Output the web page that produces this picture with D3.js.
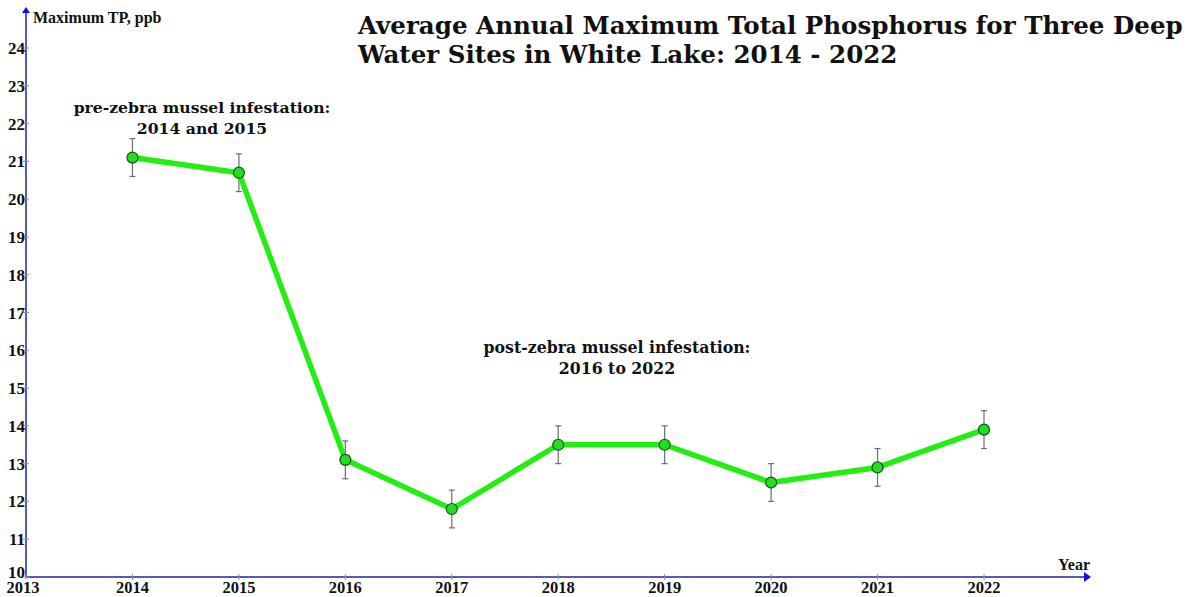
<!DOCTYPE html>
<html>
<head>
<meta charset="utf-8">
<script src="https://cdn.jsdelivr.net/npm/d3@7"></script>
<style>
  html, body { margin: 0; padding: 0; background: #fff; }
  svg { display: block; }
</style>
</head>
<body>
<svg id="chart" width="1200" height="597"></svg>
<script>
// Annual maximum total phosphorus (ppb), averaged over three deep-water sites
const years = [2014, 2015, 2016, 2017, 2018, 2019, 2020, 2021, 2022];
const meanTP = [21.1, 20.7, 13.1, 11.8, 13.5, 13.5, 12.5, 12.9, 13.9];
const errTP = [0.5, 0.5, 0.5, 0.5, 0.5, 0.5, 0.5, 0.5, 0.5];
const yTicks = [10, 11, 12, 13, 14, 15, 16, 17, 18, 19, 20, 21, 22, 23, 24];
const xTicks = [2013, 2014, 2015, 2016, 2017, 2018, 2019, 2020, 2021, 2022];

const titleLines = [
  "Average Annual Maximum Total Phosphorus for Three Deep",
  "Water Sites in White Lake: 2014 - 2022"
];
const notePre = ["pre-zebra mussel infestation:", "2014 and 2015"];
const notePost = ["post-zebra mussel infestation:", "2016 to 2022"];

const svg = d3.select("#chart");
const axisColor = "#23239a";
const serifBold = "'Liberation Serif', 'Times New Roman', serif";
const noteFont = "'DejaVu Serif', Georgia, serif";

const x = d3.scaleLinear().domain([2013, 2022]).range([26, 984]);
const y = d3.scaleLinear().domain([10, 24]).range([577, 48]);

const data = years.map((yr, i) => ({ yr, v: meanTP[i], e: errTP[i] }));

// Axes lines with arrow heads
svg.append("line").attr("x1", x(2013)).attr("x2", 1084).attr("y1", y(10)).attr("y2", y(10))
  .attr("stroke", axisColor).attr("stroke-width", 1.5);
svg.append("path").attr("d", `M1084,${y(10) - 5} L1091,${y(10)} L1084,${y(10) + 5} Z`).attr("fill", "#1010e0");
svg.append("line").attr("x1", x(2013)).attr("x2", x(2013)).attr("y1", y(10)).attr("y2", 12)
  .attr("stroke", axisColor).attr("stroke-width", 1.5);
svg.append("path").attr("d", `M${x(2013) - 4},13 L${x(2013)},7 L${x(2013) + 4},13 Z`).attr("fill", "#1010e0");

// Y ticks and labels
const yg = svg.append("g");
yTicks.forEach(t => {
  yg.append("line").attr("x1", x(2013) - 3).attr("x2", x(2013) + 3)
    .attr("y1", y(t)).attr("y2", y(t)).attr("stroke", "#8a8ac8").attr("stroke-width", 1);
  yg.append("text").attr("x", 25).attr("y", t === 10 ? y(t) + 0.5 : y(t) + 6)
    .attr("text-anchor", "end").attr("font-family", serifBold).attr("font-weight", "bold")
    .attr("font-size", 17).attr("fill", "#111").text(t);
});

// X ticks and labels
const xg = svg.append("g");
xTicks.forEach(t => {
  xg.append("line").attr("x1", x(t)).attr("x2", x(t))
    .attr("y1", y(10) - 3).attr("y2", y(10) + 3).attr("stroke", "#8a8ac8").attr("stroke-width", 1);
  xg.append("text").attr("x", t === 2013 ? x(t) - 3 : x(t)).attr("y", 593)
    .attr("text-anchor", "middle").attr("font-family", serifBold).attr("font-weight", "bold")
    .attr("font-size", 16.5).attr("fill", "#111").text(t);
});

// Axis titles
svg.append("text").attr("x", 33).attr("y", 23).attr("font-family", serifBold)
  .attr("font-weight", "bold").attr("font-size", 16).attr("fill", "#111").text("Maximum TP, ppb");
svg.append("text").attr("x", 1090).attr("y", 570).attr("text-anchor", "end").attr("font-family", serifBold)
  .attr("font-weight", "bold").attr("font-size", 16).attr("fill", "#111").text("Year");

// Error bars
const eg = svg.append("g").attr("stroke", "#6d6d6d").attr("stroke-width", 1.2);
data.forEach(d => {
  eg.append("line").attr("x1", x(d.yr)).attr("x2", x(d.yr)).attr("y1", y(d.v - d.e)).attr("y2", y(d.v + d.e));
  [d.v - d.e, d.v + d.e].forEach(v => {
    eg.append("line").attr("x1", x(d.yr) - 3).attr("x2", x(d.yr) + 3).attr("y1", y(v)).attr("y2", y(v));
  });
});

// Series line
svg.append("path").datum(data)
  .attr("d", d3.line().x(d => x(d.yr)).y(d => y(d.v)))
  .attr("fill", "none").attr("stroke", "#22ee11").attr("stroke-width", 5.5)
  .attr("stroke-linejoin", "round");

// Markers
svg.append("g").selectAll("circle").data(data).join("circle")
  .attr("cx", d => x(d.yr)).attr("cy", d => y(d.v)).attr("r", 5.5)
  .attr("fill", "#22dd22").attr("stroke", "#145214").attr("stroke-width", 1.2);

// Title, fitted to its line width
const tg = svg.append("g");
titleLines.forEach((line, i) => {
  tg.append("text").attr("x", 358).attr("y", 34 + i * 29)
    .attr("font-family", noteFont).attr("font-weight", "bold").attr("font-size", 22)
    .attr("fill", "#111").text(line);
});
const tw = tg.select("text").node().getComputedTextLength();
tg.selectAll("text").attr("font-size", 22 * 825 / tw);

// Period notes
function note(lines, cx, y0, width) {
  const g = svg.append("g");
  lines.forEach((l, i) => {
    g.append("text").attr("x", cx).attr("y", y0 + i * 21).attr("text-anchor", "middle")
      .attr("font-family", noteFont).attr("font-weight", "bold").attr("font-size", 15)
      .attr("fill", "#111").text(l);
  });
  const w = g.select("text").node().getComputedTextLength();
  g.selectAll("text").attr("font-size", 15 * width / w);
}
note(notePre, 202, 113, 257);
note(notePost, 617, 353, 267);
</script>
</body>
</html>
